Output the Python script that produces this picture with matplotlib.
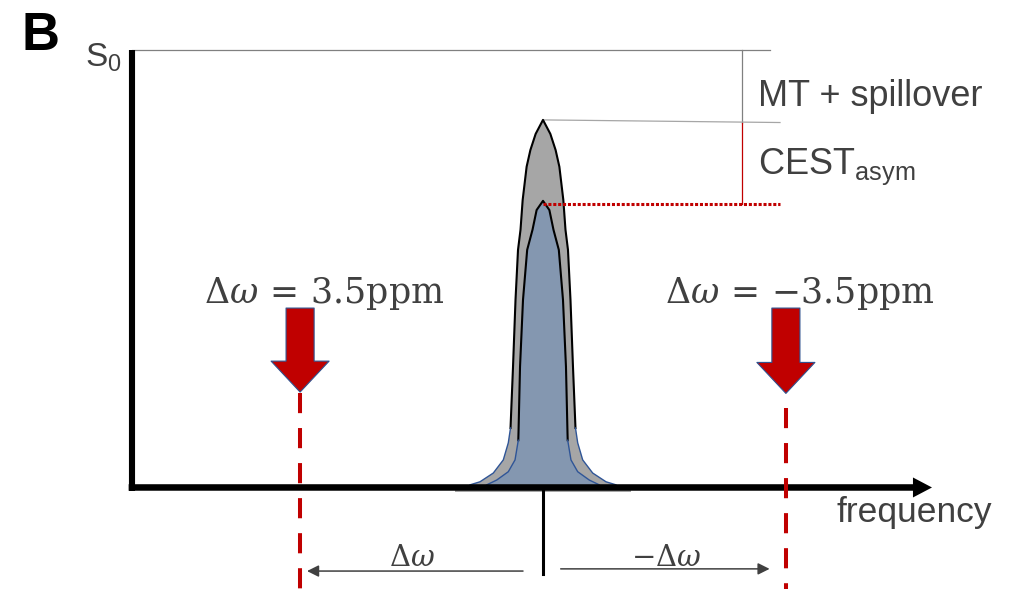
import numpy as np
import matplotlib
matplotlib.use("Agg")
import matplotlib.pyplot as plt

# Schematic Z-spectrum: x = offset in ppm, y = signal S/S0
# gray peak (MT + spillover), half widths
gray_top_s = [0.840, 0.808, 0.771, 0.733, 0.657, 0.589, 0.543, 0.429, 0.276, 0.136]
gray_top_hw = [0.0, 0.106, 0.182, 0.236, 0.293, 0.324, 0.360, 0.396, 0.432, 0.468]
gray_wing_s = [0.136, 0.102, 0.063, 0.033, 0.013, 0.006, 0.0]
gray_wing_hw = [0.468, 0.500, 0.572, 0.716, 0.908, 1.052, 1.080]

# blue peak (direct water saturation)
blue_top_s = [0.655, 0.634, 0.589, 0.543, 0.429, 0.276, 0.125, 0.108]
blue_top_hw = [0.0, 0.092, 0.151, 0.228, 0.288, 0.331, 0.353, 0.356]
blue_wing_s = [0.108, 0.063, 0.036, 0.017, 0.006, 0.0]
blue_wing_hw = [0.356, 0.403, 0.500, 0.667, 0.811, 0.850]

s0 = 1.0
offset = 3.5          # ppm, saturation offset
gray_peak = gray_top_s[0]
blue_peak = blue_top_s[0]

TXT = '#404040'
RED = '#C00000'
GRAY_FILL = '#A6A6A6'
BLUE_FILL = '#8497B0'
BLUE_EDGE = '#2F5597'


def outline(hw, s):
    hw = np.asarray(hw)
    s = np.asarray(s)
    x = np.concatenate([hw[::-1], -hw[1:]])
    y = np.concatenate([s[::-1], s[1:]])
    return x, y


fig = plt.figure(figsize=(10.1, 5.89), dpi=100)
ax = fig.add_axes([0, 0, 1, 1])
ax.set_xlim(7.824, -6.729)
ax.set_ylim(-0.232, 1.114)
ax.axis('off')

# peaks
gx, gy = outline(gray_top_hw + gray_wing_hw[1:], gray_top_s + gray_wing_s[1:])
ax.fill(gx, gy, color=GRAY_FILL, lw=0, zorder=2)
ax.fill_between([1.268, -1.268], -0.0095, 0, color=GRAY_FILL, lw=0, zorder=2)
bx, by = outline(blue_top_hw + blue_wing_hw[1:], blue_top_s + blue_wing_s[1:])
ax.fill(bx, by, color=BLUE_FILL, lw=0, zorder=2)

tx, ty = outline(gray_top_hw, gray_top_s)
ax.plot(tx, ty, color='k', lw=1.5, zorder=2.5)
tx, ty = outline(blue_top_hw, blue_top_s)
ax.plot(tx, ty, color='k', lw=1.5, zorder=2.5)
for sign in (1, -1):
    ax.plot(sign * np.asarray(gray_wing_hw), gray_wing_s, color=BLUE_EDGE, lw=1.0, zorder=2.5)
    ax.plot(sign * np.asarray(blue_wing_hw), blue_wing_s, color=BLUE_EDGE, lw=1.0, zorder=2.5)

# axes
ax.plot([5.915, 5.915], [-0.009, s0], color='k', lw=4.4, solid_capstyle='butt', zorder=3)
ax.annotate('', xy=(-5.605, 0), xytext=(5.97, 0),
            arrowprops=dict(arrowstyle='simple,head_length=13.7,head_width=14.4,tail_width=4.7',
                            mutation_scale=1, fc='k', ec='none', shrinkA=0, shrinkB=0),
            zorder=3)
ax.plot([0, 0], [0, -0.198], color='k', lw=2.2, zorder=3)

# reference levels
ax.plot([5.915, -3.271], [s0, s0], color='#808080', lw=0.9, zorder=1)
ax.plot([-2.867, -2.867], [s0, 0.834], color='#808080', lw=0.9, zorder=1)
ax.plot([0, -3.415], [gray_peak, 0.834], color='#A6A6A6', lw=0.9, zorder=1)
ax.plot([-2.867, -2.867], [0.834, blue_peak - 0.007], color=RED, lw=0.9, zorder=1)
ax.plot([0, -3.415], [blue_peak - 0.007, blue_peak - 0.007], color=RED, lw=2.2,
        linestyle=(0, (1, 0.6)), zorder=2.6)

# saturation arrows and dashed markers
for x0, y0, y1, ys in [(offset, 0.410, 0.218, 0.216), (-offset, 0.410, 0.215, 0.182)]:
    ax.annotate('', xy=(x0, y1), xytext=(x0, y0),
                arrowprops=dict(arrowstyle='simple,head_length=22.3,head_width=41.8,tail_width=20.2',
                                mutation_scale=1, fc=RED, ec='#2F528F', lw=0.8,
                                shrinkA=0, shrinkB=0),
                zorder=4)
    ax.plot([x0, x0], [ys, -0.232], color=RED, lw=2.9, linestyle=(0, (5, 3.7)),
            solid_capstyle='butt', zorder=4)

# offset arrows below the axis
ax.annotate('', xy=(3.40, -0.191), xytext=(0.288, -0.191),
            arrowprops=dict(arrowstyle='-|>,head_length=7,head_width=3.5', mutation_scale=1,
                            color=TXT, lw=1.1, shrinkA=0, shrinkB=0))
ax.annotate('', xy=(-3.265, -0.186), xytext=(-0.255, -0.186),
            arrowprops=dict(arrowstyle='-|>,head_length=7,head_width=3.5', mutation_scale=1,
                            color=TXT, lw=1.1, shrinkA=0, shrinkB=0))

# text
sans = 'Liberation Sans'
ax.text(7.52, s0, 'B', fontsize=38, fontweight='bold', family=sans, color='k', va='baseline')
ax.text(6.60, 0.962, r'S$_{\mathregular{0}}$', fontsize=24, family=sans, color=TXT, va='baseline')
ax.text(-3.098, 0.872, 'MT + spillover', fontsize=26, family=sans, color=TXT, va='baseline')
ax.text(-3.098, 0.7166, r'CEST$_{\mathregular{asym}}$', fontsize=26, family=sans, color=TXT,
        va='baseline')
ax.text(-4.23, -0.079, 'frequency', fontsize=25.5, family=sans, color=TXT, va='baseline')

ax.text(3.156, 0.4224, r'$\Delta\omega\, =\, 3.5\mathrm{ppm}$', fontsize=25, color=TXT,
        math_fontfamily='dejavuserif', ha='center', va='baseline')
ax.text(-3.703, 0.4224, r'$\Delta\omega\, =\, {-}3.5\mathrm{ppm}$', fontsize=25, color=TXT,
        math_fontfamily='dejavuserif', ha='center', va='baseline')
ax.text(1.888, -0.179, r'$\Delta\omega$', fontsize=21, color=TXT,
        math_fontfamily='dejavuserif', ha='center', va='baseline')
ax.text(-1.772, -0.179, r'$-\Delta\omega$', fontsize=21, color=TXT,
        math_fontfamily='dejavuserif', ha='center', va='baseline')

fig.savefig('out.png', dpi=100)
